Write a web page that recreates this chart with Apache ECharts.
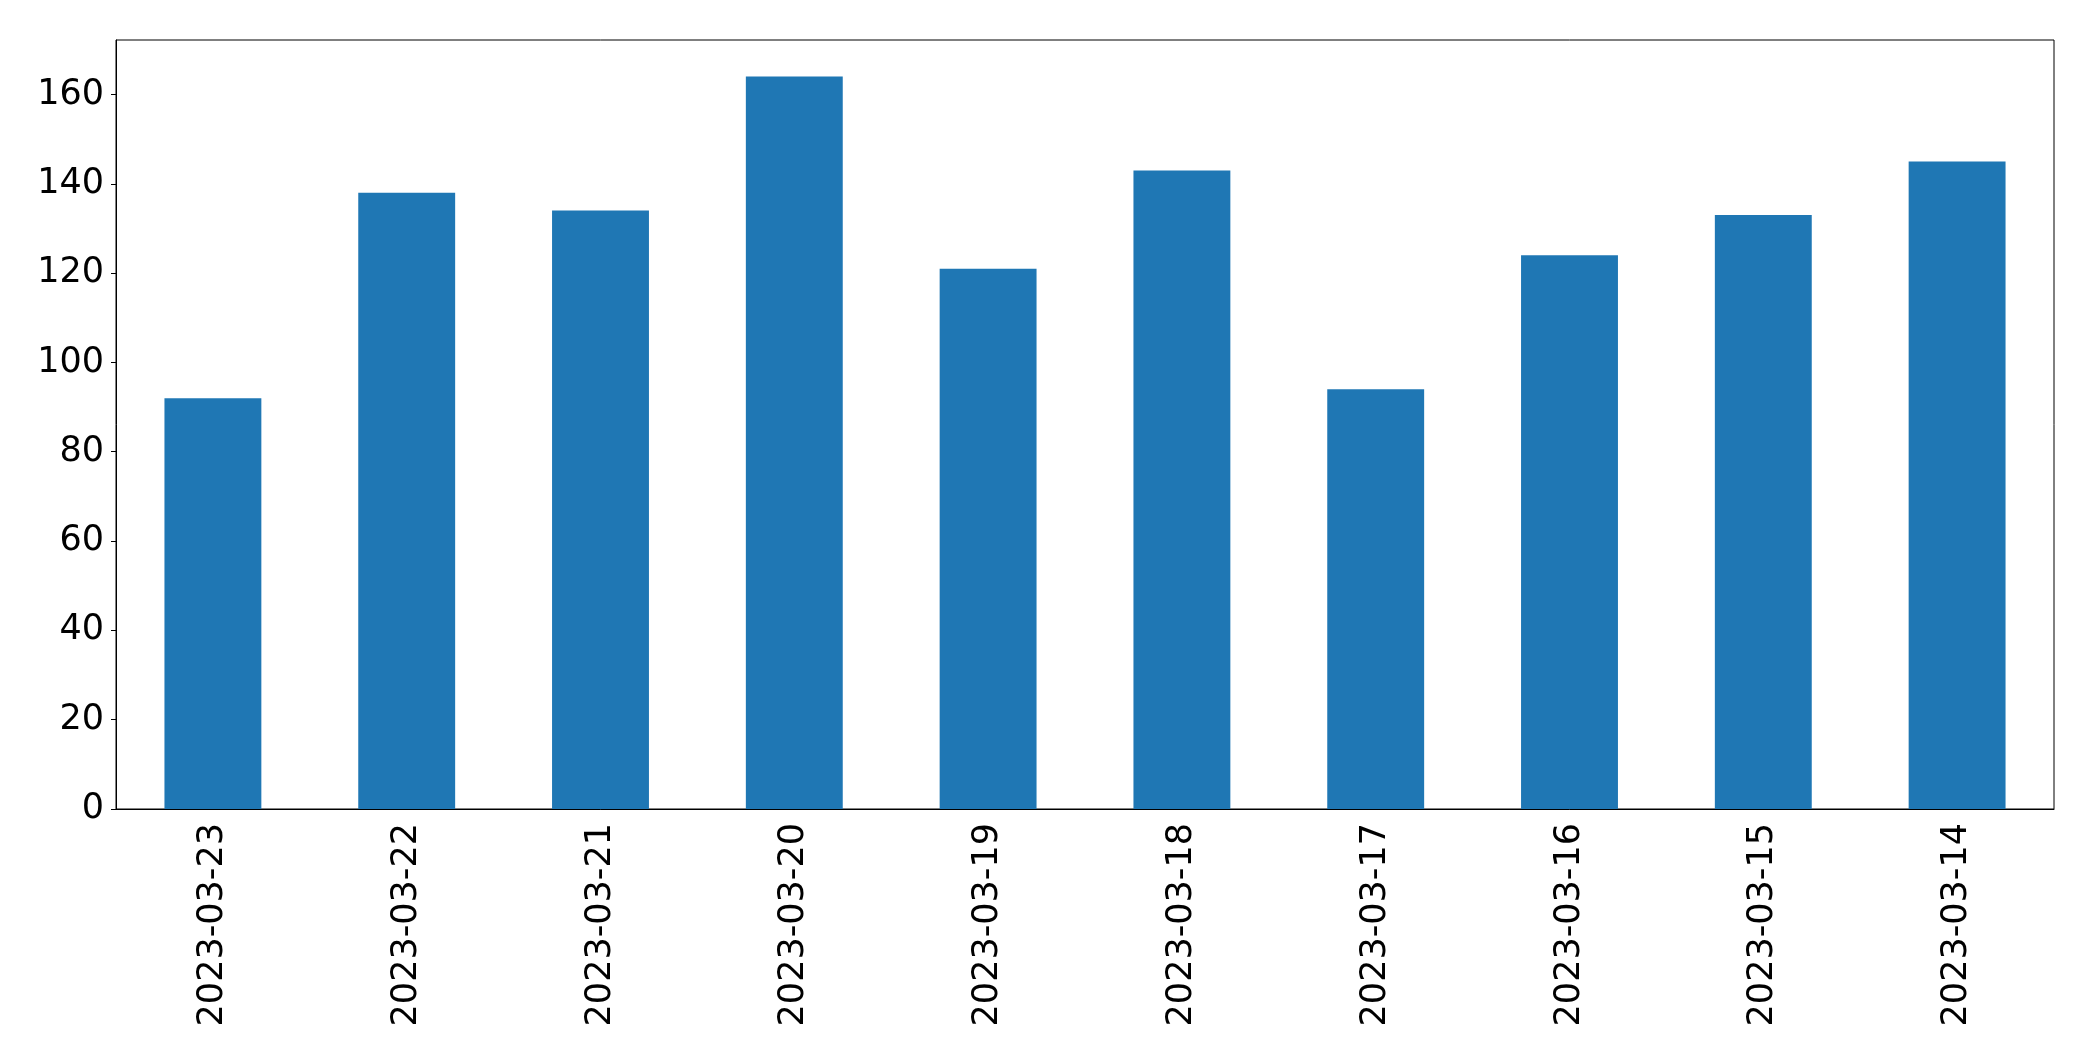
<!DOCTYPE html>
<html>
<head>
<meta charset="utf-8">
<script src="https://cdn.jsdelivr.net/npm/echarts@6/dist/echarts.min.js"></script>
<style>
html,body{margin:0;padding:0;background:#fff;}
#chart{width:2093px;height:1061px;}
</style>
</head>
<body>
<div id="chart"></div>
<script>
const categories = ['2023-03-23','2023-03-22','2023-03-21','2023-03-20','2023-03-19','2023-03-18','2023-03-17','2023-03-16','2023-03-15','2023-03-14'];
const values = [92, 138, 134, 164, 121, 143, 94, 124, 133, 145];
const yTicks = [0, 20, 40, 60, 80, 100, 120, 140, 160];

const chart = echarts.init(document.getElementById('chart'), null, {renderer: 'canvas'});
const font = 'DejaVu Sans';
chart.setOption({
  animation: false,
  backgroundColor: '#fff',
  grid: {
    left: 116, top: 40, right: 39, bottom: 252,
    show: true, borderColor: '#000', borderWidth: 1, backgroundColor: 'transparent'
  },
  xAxis: {
    type: 'category',
    data: categories,
    axisLine: {lineStyle: {color: '#000', width: 1}},
    axisTick: {alignWithLabel: true, length: 6, lineStyle: {color: '#000', width: 1}},
    axisLabel: {rotate: 90, fontFamily: font, fontSize: 35, color: '#000', margin: 14, interval: 0}
  },
  yAxis: {
    type: 'value',
    min: 0, max: 172.2, interval: 20,
    splitLine: {show: false},
    axisLine: {show: true, lineStyle: {color: '#000', width: 1}},
    axisTick: {show: true, length: 5, customValues: yTicks, lineStyle: {color: '#000', width: 1}},
    axisLabel: {fontFamily: font, fontSize: 35, color: '#000', margin: 12, customValues: yTicks}
  },
  series: [{
    type: 'bar',
    data: values,
    barWidth: '50%',
    itemStyle: {color: '#1f77b4'}
  }]
});
</script>
</body>
</html>
